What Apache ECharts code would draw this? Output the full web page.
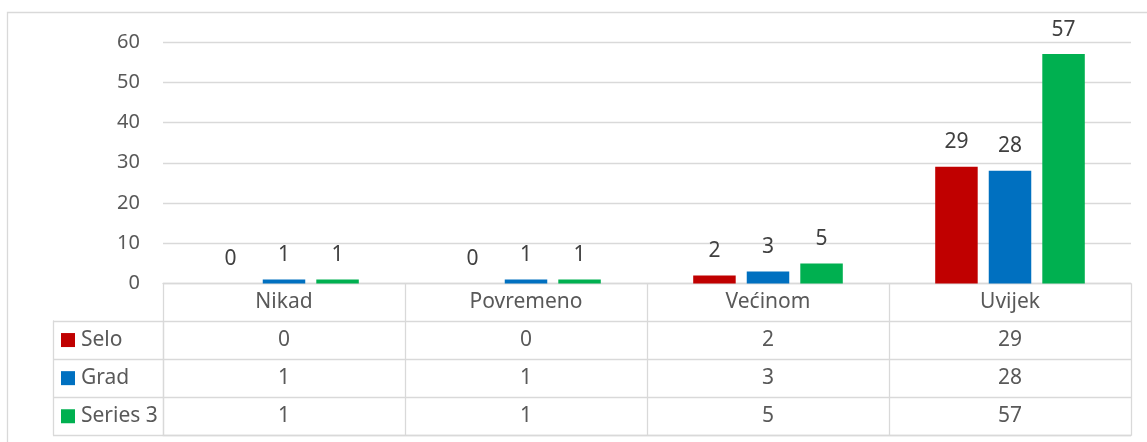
<!DOCTYPE html>
<html>
<head>
<meta charset="utf-8">
<script src="https://cdn.jsdelivr.net/npm/echarts@6/dist/echarts.min.js"></script>
<style>
html,body{margin:0;padding:0;background:#fff;}
#c{width:1147px;height:442px;}
</style>
</head>
<body>
<div id="c"></div>
<script>
const categories = ['Nikad', 'Povremeno', 'Većinom', 'Uvijek'];
const seriesNames = ['Selo', 'Grad', 'Series 3'];
const selo = [0, 0, 2, 29];
const grad = [1, 1, 3, 28];
const series3 = [1, 1, 5, 57];
const colors = ['#C00000', '#0070C0', '#00B050'];
const yTicks = [0, 10, 20, 30, 40, 50, 60];

const values = [selo, grad, series3];
const FONT = 'Noto Sans';
const GRID_C = '#d9d9d9';
const LW = 1.3;

const cellData = [];
values.forEach((arr, r) => arr.forEach((v, c) => cellData.push([categories[c], seriesNames[r], v])));

const chart = echarts.init(document.getElementById('c'));
chart.setOption({
  animation: false,
  textStyle: { fontFamily: FONT },
  graphic: [{
    type: 'rect', silent: true, z: -1,
    shape: { x: 7.5, y: 12.5, width: 1300, height: 600 },
    style: { fill: 'none', stroke: GRID_C, lineWidth: LW }
  }],
  grid: [
    { left: 163, right: 16, top: 42, bottom: 158.5 },
    { left: 163, right: 16, top: 321, bottom: 6.7 }
  ],
  xAxis: [
    {
      type: 'category', gridIndex: 0, data: categories,
      axisLine: { show: true, lineStyle: { color: GRID_C, width: LW } },
      axisTick: { show: true, interval: 0, length: 152, lineStyle: { color: GRID_C, width: LW } },
      axisLabel: { interval: 0, margin: 8, fontSize: 21, color: '#595959', fontFamily: FONT }
    },
    {
      type: 'category', gridIndex: 1, data: categories,
      axisLine: { show: true, lineStyle: { color: GRID_C, width: LW } },
      axisTick: { show: false }, axisLabel: { show: false }
    }
  ],
  yAxis: [
    {
      type: 'value', gridIndex: 0, min: yTicks[0], max: yTicks[yTicks.length - 1], interval: 10,
      axisLine: { show: false }, axisTick: { show: false },
      splitLine: { show: true, lineStyle: { color: GRID_C, width: LW } },
      axisLabel: { margin: 23, fontSize: 20, color: '#595959', fontFamily: FONT }
    },
    {
      type: 'category', gridIndex: 1, data: seriesNames, inverse: true,
      axisLine: { show: true, lineStyle: { color: GRID_C, width: LW } },
      axisTick: { show: true, interval: 0, length: 110, lineStyle: { color: GRID_C, width: LW } },
      splitLine: { show: true, interval: 0, lineStyle: { color: GRID_C, width: LW } },
      axisLabel: {
        interval: 0, margin: 102, align: 'left', fontSize: 21, color: '#595959', fontFamily: FONT,
        formatter: (v, i) => '{s' + i + '|}{t|' + v + '}',
        rich: {
          s0: { width: 14, height: 14, backgroundColor: colors[0] },
          s1: { width: 14, height: 14, backgroundColor: colors[1] },
          s2: { width: 14, height: 14, backgroundColor: colors[2] },
          t: { fontSize: 21, color: '#595959', fontFamily: FONT, padding: [0, 0, 0, 6] }
        }
      }
    },
    {
      type: 'category', gridIndex: 1, data: seriesNames, inverse: true, position: 'left', offset: 110,
      axisLine: { show: true, lineStyle: { color: GRID_C, width: LW } },
      axisTick: { show: false }, axisLabel: { show: false }, splitLine: { show: false }
    }
  ],
  series: [
    ...values.map((arr, i) => ({
      type: 'bar', name: seriesNames[i], data: arr, xAxisIndex: 0, yAxisIndex: 0,
      barWidth: 42.5, barGap: '26%',
      itemStyle: { color: colors[i] },
      label: { show: true, position: 'top', distance: 14, fontSize: 21, color: '#404040', fontFamily: FONT }
    })),
    {
      type: 'scatter', xAxisIndex: 1, yAxisIndex: 1, data: cellData, silent: true,
      symbolSize: 1, itemStyle: { color: 'rgba(0,0,0,0)', opacity: 1 },
      label: {
        show: true, position: 'inside', fontSize: 21, color: '#595959', opacity: 1, fontFamily: FONT,
        formatter: p => String(p.value[2])
      }
    }
  ]
});
</script>
</body>
</html>
